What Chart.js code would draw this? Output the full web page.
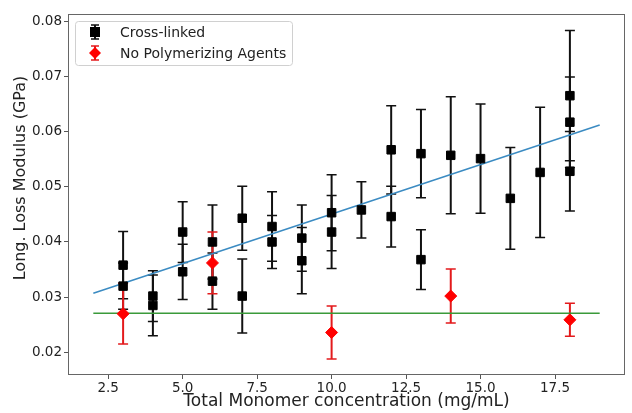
<!DOCTYPE html>
<html>
<head>
<meta charset="utf-8">
<script src="https://cdn.jsdelivr.net/npm/chart.js@4.4.1/dist/chart.umd.min.js"></script>
<style>
  html, body { margin: 0; padding: 0; background: #fff; }
</style>
</head>
<body>
<canvas id="chart" width="632" height="413"></canvas>
<script>
// Cross-linked samples (several repeats per concentration)
const crossX = [3, 3, 4, 4, 5, 5, 6, 6, 7, 7, 8, 8, 9, 9, 10, 10, 11, 12, 12, 13, 13, 14, 15, 16, 17, 18, 18, 18];
const crossY = [0.0358, 0.0320, 0.0302, 0.0285, 0.0418, 0.0346, 0.0400, 0.0329, 0.0443, 0.0302,
                0.0428, 0.0400, 0.0407, 0.0366, 0.0453, 0.0418, 0.0458, 0.0567, 0.0446, 0.0560,
                0.0368, 0.0557, 0.0551, 0.0479, 0.0526, 0.0665, 0.0617, 0.0528];
const crossErr = [0.0061, 0.0042, 0.0046, 0.0055, 0.0055, 0.0050, 0.0067, 0.0051, 0.0058, 0.0067,
                  0.0063, 0.0048, 0.0060, 0.0060, 0.0069, 0.0066, 0.0051, 0.0080, 0.0055, 0.0080,
                  0.0054, 0.0106, 0.0099, 0.0092, 0.0118, 0.0118, 0.0082, 0.0072];

// No polymerizing agents
const noPolyX = [3, 6, 10, 14, 18];
const noPolyY = [0.0270, 0.0362, 0.0236, 0.0302, 0.0259];
const noPolyErr = [0.0055, 0.0056, 0.0048, 0.0049, 0.0030];

// fit line and mean line end points
const fitX = [2, 19];
const fitCross = [0.0307, 0.0612];
const meanNoPoly = [0.0271, 0.0271];

const xTicks = [2.5, 5, 7.5, 10, 12.5, 15, 17.5];
const yTicks = [0.02, 0.03, 0.04, 0.05, 0.06, 0.07, 0.08];

const FONT = '"DejaVu Sans", sans-serif';

function pts(xs, ys) {
    return xs.map((x, i) => ({ x: x, y: ys[i] }));
}

// vertical error bars with caps, drawn under everything
const errorBars = {
    id: 'errorBars',
    beforeDatasetsDraw(chart) {
        const ctx = chart.ctx;
        const sx = chart.scales.x, sy = chart.scales.y;
        chart.data.datasets.forEach(ds => {
            if (!ds.err) return;
            ctx.save();
            ctx.strokeStyle = ds.errColor;
            ds.data.forEach((p, i) => {
                const px = sx.getPixelForValue(p.x);
                const top = sy.getPixelForValue(p.y + ds.err[i]);
                const bot = sy.getPixelForValue(p.y - ds.err[i]);
                ctx.lineWidth = 2;
                ctx.beginPath();
                ctx.moveTo(px, top);
                ctx.lineTo(px, bot);
                ctx.stroke();
                ctx.lineWidth = 1.5;
                ctx.beginPath();
                ctx.moveTo(px - 5, top); ctx.lineTo(px + 5, top);
                ctx.moveTo(px - 5, bot); ctx.lineTo(px + 5, bot);
                ctx.stroke();
            });
            ctx.restore();
        });
    }
};

// frame, y title and the boxed legend
const decorations = {
    id: 'decorations',
    afterDraw(chart) {
        const ctx = chart.ctx;
        const a = chart.chartArea;
        ctx.save();
        ctx.strokeStyle = '#666';
        ctx.lineWidth = 1;
        ctx.strokeRect(a.left + 0.5, a.top + 0.5, a.right - a.left - 1, a.bottom - a.top - 1);

        // y axis title (sits a bit above the axis centre in the original)
        ctx.save();
        ctx.translate(21, 178);
        ctx.rotate(-Math.PI / 2);
        ctx.fillStyle = '#222';
        ctx.font = '16px ' + FONT;
        ctx.textAlign = 'center';
        ctx.textBaseline = 'middle';
        ctx.fillText('Long. Loss Modulus (GPa)', 0, 0);
        ctx.restore();

        // legend
        const items = chart.data.datasets.filter(ds => ds.err);
        ctx.fillStyle = 'rgba(255,255,255,0.8)';
        ctx.strokeStyle = '#d0d0d0';
        ctx.beginPath();
        ctx.roundRect(75.5, 21.5, 217, 44, 3);
        ctx.fill();
        ctx.stroke();
        ctx.font = '14px ' + FONT;
        ctx.textBaseline = 'middle';
        items.forEach((ds, i) => {
            const cx = 95, cy = 32 + i * 21;
            ctx.strokeStyle = ds.errColor;
            ctx.lineWidth = 2;
            ctx.beginPath();
            ctx.moveTo(cx, cy - 7); ctx.lineTo(cx, cy + 7);
            ctx.stroke();
            ctx.lineWidth = 1.5;
            ctx.beginPath();
            ctx.moveTo(cx - 4, cy - 7); ctx.lineTo(cx + 4, cy - 7);
            ctx.moveTo(cx - 4, cy + 7); ctx.lineTo(cx + 4, cy + 7);
            ctx.stroke();
            ctx.fillStyle = ds.backgroundColor;
            ctx.beginPath();
            if (ds.pointStyle === 'rect') {
                ctx.rect(cx - 5, cy - 5, 10, 10);
            } else {
                ctx.moveTo(cx, cy - 6); ctx.lineTo(cx + 6, cy);
                ctx.lineTo(cx, cy + 6); ctx.lineTo(cx - 6, cy);
                ctx.closePath();
            }
            ctx.fill();
            ctx.fillStyle = '#222';
            ctx.fillText(ds.label, 120, cy + 1);
        });
        ctx.restore();
    }
};

new Chart(document.getElementById('chart'), {
    type: 'scatter',
    data: {
        datasets: [
            {
                label: 'Cross-linked',
                data: pts(crossX, crossY),
                err: crossErr,
                errColor: '#111',
                pointStyle: 'rect',
                pointRadius: 6,
                backgroundColor: '#000',
                borderColor: '#000',
                borderWidth: 1
            },
            {
                label: 'No Polymerizing Agents',
                data: pts(noPolyX, noPolyY),
                err: noPolyErr,
                errColor: '#e31a1c',
                pointStyle: 'rectRot',
                pointRadius: 6,
                backgroundColor: '#ff0000',
                borderColor: '#ff0000',
                borderWidth: 1
            },
            {
                label: 'fit',
                type: 'line',
                data: pts(fitX, fitCross),
                borderColor: '#3b8bc2',
                borderWidth: 1.5,
                pointRadius: 0,
                fill: false
            },
            {
                label: 'mean',
                type: 'line',
                data: pts(fitX, meanNoPoly),
                borderColor: '#3a9a3a',
                borderWidth: 1.5,
                pointRadius: 0,
                fill: false
            }
        ]
    },
    options: {
        responsive: false,
        animation: false,
        layout: { padding: { top: 14, right: 2, left: 0, bottom: 0 } },
        plugins: {
            legend: { display: false },
            tooltip: { enabled: false }
        },
        scales: {
            x: {
                type: 'linear',
                min: 1.15,
                max: 19.85,
                afterBuildTicks: axis => { axis.ticks = xTicks.map(v => ({ value: v })); },
                afterFit: axis => { axis.height = 38; },
                grid: { display: true, drawOnChartArea: false, tickLength: 4, color: '#555' },
                border: { display: false },
                ticks: {
                    color: '#222',
                    font: { family: FONT, size: 13.5 },
                    padding: 1,
                    maxRotation: 0,
                    callback: v => v.toFixed(1)
                },
                title: {
                    display: true,
                    text: 'Total Monomer concentration (mg/mL)',
                    color: '#222',
                    font: { family: FONT, size: 17 },
                    padding: { top: 0, bottom: 1 }
                }
            },
            y: {
                min: 0.0159,
                max: 0.0813,
                afterBuildTicks: axis => { axis.ticks = yTicks.map(v => ({ value: v })); },
                afterFit: axis => { axis.width = 68; },
                grid: { display: true, drawOnChartArea: false, tickLength: 4, color: '#555' },
                border: { display: false },
                ticks: {
                    color: '#222',
                    font: { family: FONT, size: 13.5 },
                    padding: 2,
                    callback: v => v.toFixed(2)
                }
            }
        }
    },
    plugins: [errorBars, decorations]
});
</script>
</body>
</html>
